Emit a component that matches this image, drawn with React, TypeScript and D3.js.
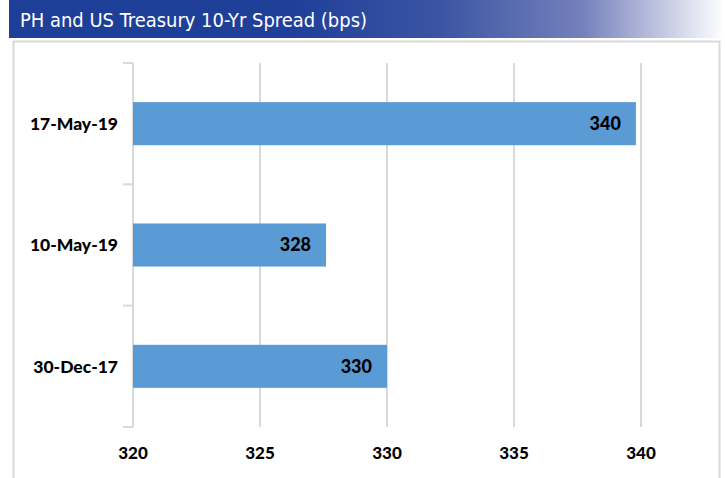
import React from "react";
import * as d3 from "d3";

const categories = ["17-May-19", "10-May-19", "30-Dec-17"];
const values = [339.8, 327.6, 330.0];
const valueLabels = ["340", "328", "330"];
const xTicks = [320, 325, 330, 335, 340];
const title = "PH and US Treasury 10-Yr Spread (bps)";

export default function App() {
  const W = 725, H = 478;
  const left = 133, right = 641, top = 63, bottom = 427;
  const x = d3.scaleLinear().domain([320, 340]).range([left, right]);
  const y = d3.scaleBand().domain(categories).range([top, bottom]).paddingInner(0.645).paddingOuter(0.3225);
  const bandStep = (bottom - top) / categories.length;
  const font = "Lato, 'Open Sans', sans-serif";
  const grid = "#d9d9d9";
  return (
    <div style={{ position: "absolute", left: 0, top: 0 }}>
      <svg width={W} height={H} style={{ display: "block" }}>
        <defs>
          <linearGradient id="hdr" x1="0" x2="1" y1="0" y2="0">
            <stop offset="0" stopColor="#1e3f98" />
            <stop offset="0.4" stopColor="#1f3f99" />
            <stop offset="0.6" stopColor="#3b55a3" />
            <stop offset="0.8" stopColor="#7480bb" />
            <stop offset="1" stopColor="#ffffff" />
          </linearGradient>
        </defs>
        <rect x={0} y={0} width={W} height={H} fill="#fff" />
        <rect x={9} y={0} width={W - 9} height={38} fill="url(#hdr)" />
        <text x={20} y={27} fill="#fff" fontFamily="'DejaVu Sans Condensed', 'DejaVu Sans', sans-serif" fontSize={20} textLength={347} lengthAdjust="spacingAndGlyphs">{title}</text>
        <rect x={13.5} y={41.5} width={706} height={440} fill="none" stroke={grid} strokeWidth={2} />
        {xTicks.slice(1).map(t => (
          <line key={t} x1={x(t)} x2={x(t)} y1={top} y2={bottom} stroke={grid} strokeWidth={2} />
        ))}
        <line x1={left} x2={left} y1={top} y2={bottom} stroke={grid} strokeWidth={2} />
        {d3.range(categories.length + 1).map(i => (
          <line key={i} x1={left - 10} x2={left} y1={top + i * bandStep} y2={top + i * bandStep} stroke={grid} strokeWidth={2} />
        ))}
        {categories.map((c, i) => (
          <g key={c}>
            <rect x={x(320)} y={y(c)!} width={x(values[i]) - x(320)} height={y.bandwidth()} fill="#5b9bd5" />
            <text x={x(values[i]) - 15} y={y(c)! + y.bandwidth() / 2} dy="0.36em" textAnchor="end" fontFamily={font} fontWeight={900} fontSize={18} fill="#000">{valueLabels[i]}</text>
            <text x={118} y={y(c)! + y.bandwidth() / 2} dy="0.36em" textAnchor="end" fontFamily={font} fontWeight={900} fontSize={17.5} fill="#000">{c}</text>
          </g>
        ))}
        {xTicks.map(t => (
          <text key={t} x={x(t)} y={453} dy="0.36em" textAnchor="middle" fontFamily={font} fontWeight={900} fontSize={17} fill="#000">{t}</text>
        ))}
      </svg>
    </div>
  );
}
